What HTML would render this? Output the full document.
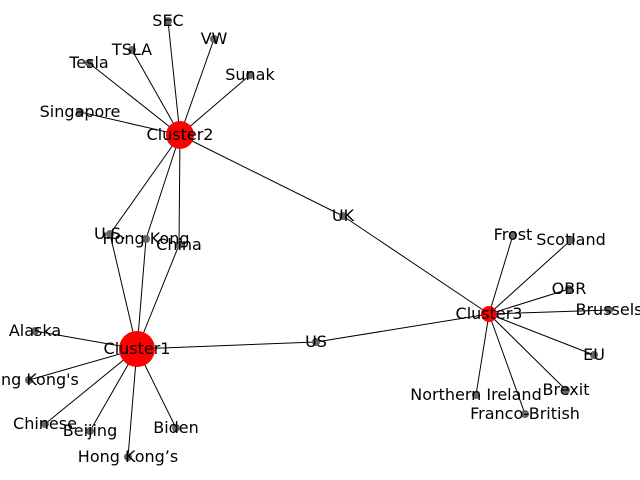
<!DOCTYPE html>
<html><head><meta charset="utf-8"><style>
html,body{margin:0;padding:0;background:#fff;}
svg{display:block;}
text{font-family:"DejaVu Sans","Liberation Sans",sans-serif;font-size:16px;fill:#000;}
</style></head><body>
<svg id="chart" width="640" height="480"></svg>
<script>
const nodeNames = ["Cluster1","Cluster2","Cluster3","SEC","TSLA","VW","Tesla","Sunak","Singapore","U.S.","Hong Kong","China","UK","Alaska","Hong Kong's","Chinese","Beijing","Biden","Hong Kong’s","US","Frost","Scotland","OBR","Brussels","EU","Brexit","Northern Ireland","Franco-British"];
const nodeX = [137,180,489,168,132,214,89,250,80,110,146,179,343,35,29,45,90,176,128,316,513,571,569,609,594,566,476,525];
const nodeY = [349,135,314,21,50,39,63,75,112,234,239,245,216,331,380,424,431,428,457,342,235,240,289,310,355,390,395,414];
const nodeSizes = [18,14,8,4,4,4,4,4,4,4,4,4,4,4,4,4,4,4,4,4,4,4,4,4,4,4,4,4];
const edgeSource = ["Cluster2","Cluster2","Cluster2","Cluster2","Cluster2","Cluster2","Cluster2","Cluster2","Cluster2","Cluster2","Cluster1","Cluster1","Cluster1","Cluster1","Cluster1","Cluster1","Cluster1","Cluster1","Cluster1","Cluster1","Cluster3","Cluster3","Cluster3","Cluster3","Cluster3","Cluster3","Cluster3","Cluster3","Cluster3","Cluster3"];
const edgeTarget = ["SEC","TSLA","VW","Tesla","Sunak","Singapore","U.S.","Hong Kong","China","UK","U.S.","Hong Kong","China","US","Alaska","Hong Kong's","Chinese","Beijing","Biden","Hong Kong’s","UK","US","Frost","Scotland","OBR","Brussels","EU","Brexit","Northern Ireland","Franco-British"];
const svg = document.getElementById('chart');
const NS = 'http://www.w3.org/2000/svg';
function idx(n){return nodeNames.indexOf(n);}
for(let i=0;i<edgeSource.length;i++){
  const a=idx(edgeSource[i]), b=idx(edgeTarget[i]);
  const l=document.createElementNS(NS,'line');
  l.setAttribute('x1',nodeX[a]);l.setAttribute('y1',nodeY[a]);
  l.setAttribute('x2',nodeX[b]);l.setAttribute('y2',nodeY[b]);
  l.setAttribute('stroke','#000');l.setAttribute('stroke-width','1');
  
  
  svg.appendChild(l);
}
for(let i=0;i<nodeNames.length;i++){
  const c=document.createElementNS(NS,'circle');
  c.setAttribute('cx',nodeX[i]);c.setAttribute('cy',nodeY[i]);c.setAttribute('r',nodeSizes[i]);
  c.setAttribute('fill',nodeSizes[i]>4?'#ff0000':'#666666');
  
  
  svg.appendChild(c);
}
for(let i=0;i<nodeNames.length;i++){
  const t=document.createElementNS(NS,'text');
  t.setAttribute('x',nodeX[i]);t.setAttribute('y',nodeY[i]+5);
  t.setAttribute('text-anchor','middle');
  t.textContent=nodeNames[i];
  
  
  svg.appendChild(t);
}
</script>
</body></html>
